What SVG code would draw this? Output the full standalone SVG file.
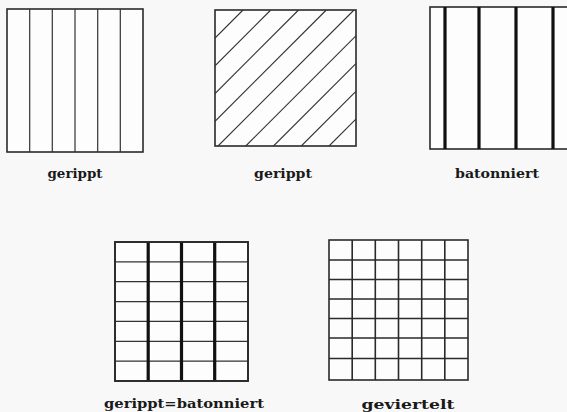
<svg xmlns="http://www.w3.org/2000/svg" width="567" height="412" viewBox="0 0 567 412">
<style>
.bg{fill:#f8f8f8}
.box{fill:#fdfdfd;stroke:#2a2a2a;stroke-width:1.6}
.thin{stroke:#333;stroke-width:1.2;fill:none}
.mid{stroke:#2a2a2a;stroke-width:1.6;fill:none}
.thick{stroke:#111;stroke-width:3.2;fill:none}
.lbl{font-family:"DejaVu Serif","Liberation Serif",serif;font-weight:bold;font-size:13px;fill:#1a1a1a;text-anchor:middle}
</style>
<defs>
<clipPath id="c2"><rect x="215" y="10" width="141" height="136"/></clipPath>
</defs>
<rect class="bg" x="0" y="0" width="567" height="412"/>

<g id="gerippt-vertical">
<rect class="box" x="7" y="9" width="136" height="143"/>
<path class="thin" d="M29.7 9V152M52.3 9V152M75 9V152M97.7 9V152M120.3 9V152"/>
<text class="lbl" x="75" y="178" textLength="55" lengthAdjust="spacingAndGlyphs">gerippt</text>
</g>

<g id="gerippt-diagonal">
<rect class="box" x="215" y="10" width="141" height="136"/>
<g clip-path="url(#c2)" class="thin">
<path d="M215 38L243 10M215 65.75L270.75 10M215 93.5L298.5 10M215 121.25L326.25 10M215 149L354 10M215 176.75L381.75 10M215 204.5L409.5 10M215 232.25L437.25 10M215 260L465 10"/>
</g>
<text class="lbl" x="283" y="178" textLength="58" lengthAdjust="spacingAndGlyphs">gerippt</text>
</g>

<g id="batonniert">
<rect class="box" x="430" y="7" width="139" height="142"/>
<path class="thick" d="M445 7V149M479 7V149M516 7V149M553 7V149"/>
<text class="lbl" x="497" y="178" textLength="84" lengthAdjust="spacingAndGlyphs">batonniert</text>
</g>

<g id="gerippt-batonniert">
<rect class="box" x="115" y="242" width="133" height="139"/>
<path class="thin" d="M115 261.9H248M115 281.7H248M115 301.6H248M115 321.4H248M115 341.3H248M115 361.1H248"/>
<path class="thick" d="M148.2 242V381M181.5 242V381M214.7 242V381"/>
<rect x="115" y="242" width="133" height="139" fill="none" stroke="#2a2a2a" stroke-width="1.8"/>
<text class="lbl" x="184" y="408" textLength="160" lengthAdjust="spacingAndGlyphs">gerippt=batonniert</text>
</g>

<g id="geviertelt">
<rect class="box" x="329" y="240" width="139" height="140" stroke-width="2"/>
<path class="mid" d="M352.2 240V380M375.3 240V380M398.5 240V380M421.7 240V380M444.8 240V380"/>
<path class="mid" d="M329 260H468M329 279.5H468M329 299H468M329 318.5H468M329 338H468M329 358.5H468"/>
<text class="lbl" x="408" y="409" textLength="93" lengthAdjust="spacingAndGlyphs">geviertelt</text>
</g>

<g id="connectors"></g>
</svg>
